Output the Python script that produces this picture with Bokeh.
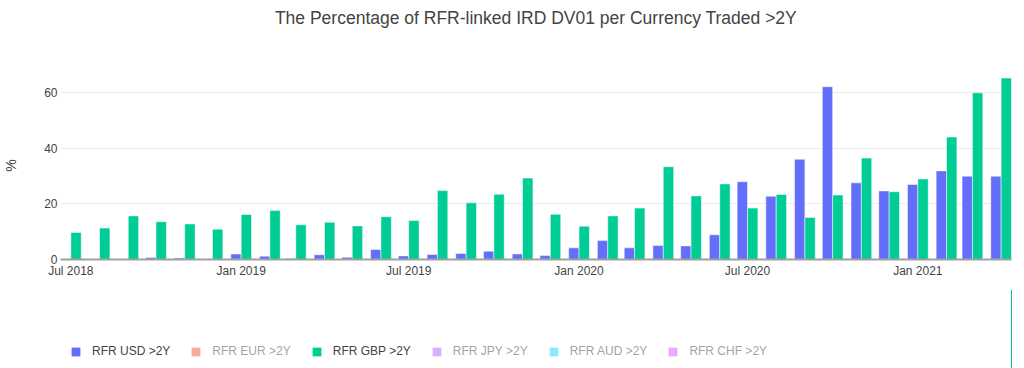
import pandas as pd
from bokeh.plotting import figure
from bokeh.layouts import column
from bokeh.models import (ColumnDataSource, Range1d, FixedTicker, Legend, LegendItem,
                          DatetimeTickFormatter, Label)
from bokeh.transform import dodge
from bokeh.embed import file_html
from bokeh.resources import INLINE

# ---------------- data ----------------
months = ["2018-07", "2018-08", "2018-09", "2018-10", "2018-11", "2018-12",
          "2019-01", "2019-02", "2019-03", "2019-04", "2019-05", "2019-06",
          "2019-07", "2019-08", "2019-09", "2019-10", "2019-11", "2019-12",
          "2020-01", "2020-02", "2020-03", "2020-04", "2020-05", "2020-06",
          "2020-07", "2020-08", "2020-09", "2020-10", "2020-11", "2020-12",
          "2021-01", "2021-02", "2021-03", "2021-04"]
usd = [0.1, 0.0, 0.0, 0.7, 0.5, 0.0,
       2.0, 1.2, 0.4, 1.7, 0.8, 3.6,
       1.3, 1.8, 2.2, 3.0, 2.0, 1.4,
       4.2, 6.8, 4.2, 5.0, 4.9, 8.9,
       28.0, 22.8, 36.1, 62.2, 27.6, 24.7,
       27.0, 31.9, 30.0, 30.0]
gbp = [9.7, 11.3, 15.7, 13.6, 12.8, 10.9,
       16.2, 17.6, 12.5, 13.4, 12.1, 15.4,
       14.0, 24.8, 20.4, 23.5, 29.3, 16.3,
       12.0, 15.7, 18.5, 33.4, 22.9, 27.2,
       18.5, 23.4, 15.1, 23.2, 36.5, 24.4,
       29.0, 44.1, 60.0, 65.3]
series_names = ["RFR USD >2Y", "RFR EUR >2Y", "RFR GBP >2Y",
                "RFR JPY >2Y", "RFR AUD >2Y", "RFR CHF >2Y"]
series_colors = ["#636EFA", "#EF553B", "#00CC96", "#AB63FA", "#19D3F3", "#E151F9"]
series_shown = [True, False, True, False, False, False]
tick_dates = ["2018-07-01", "2019-01-01", "2019-07-01",
              "2020-01-01", "2020-07-01", "2021-01-01"]
tick_labels = ["Jul 2018", "Jan 2019", "Jul 2019", "Jan 2020", "Jul 2020", "Jan 2021"]
y_ticks = [0, 20, 40, 60]
title_text = "The Percentage of RFR-linked IRD DV01 per Currency Traded >2Y"
y_title = "%"

# ---------------- build ----------------
DAY = 86400000.0
def to_ms(s):
    return pd.Timestamp(s).timestamp() * 1000.0

x_ms = [to_ms(m + "-01") for m in months]
tick_ms = [to_ms(d) for d in tick_dates]
bar_w = 11.2 * DAY

src = ColumnDataSource(dict(x=x_ms, usd=usd, gbp=gbp))
series_cols = {0: "usd", 2: "gbp"}

FONT = "Liberation Sans"
TXT = "#444444"

def blank_fig(h):
    f = figure(width=1024, height=h, output_backend="svg", toolbar_location=None,
               x_axis_location=None, y_axis_location=None,
               min_border_left=0, min_border_right=0, min_border_top=0, min_border_bottom=0,
               x_range=Range1d(0, 1), y_range=Range1d(0, 1),
               background_fill_color="white", border_fill_color="white",
               outline_line_color=None)
    f.grid.visible = False
    return f

# ---------------- title strip ----------------
head = blank_fig(71)
head.add_layout(Label(x=475.5, y=54, x_units="screen", y_units="screen", text=title_text,
                      text_align="center", text_baseline="middle", text_font=FONT,
                      text_font_size="17.5px", text_color=TXT))

# ---------------- main chart ----------------
p = figure(width=1024, height=219, x_axis_type="datetime",
           output_backend="svg", toolbar_location=None,
           min_border_left=60, min_border_right=13,
           min_border_top=0, min_border_bottom=31,
           x_range=Range1d(x_ms[0] - bar_w, x_ms[-1] + bar_w),
           y_range=Range1d(0, 67.68),
           background_fill_color="white", border_fill_color="white",
           outline_line_color=None)

p.vbar(x=dodge("x", -bar_w / 2, range=p.x_range), top="usd", width=bar_w,
       source=src, fill_color=series_colors[0], line_color="white", line_width=0.5)
p.vbar(x=dodge("x", bar_w / 2, range=p.x_range), top="gbp", width=bar_w,
       source=src, fill_color=series_colors[2], line_color="white", line_width=0.5)

xa = p.xaxis[0]
xa.ticker = FixedTicker(ticks=tick_ms)
xa.formatter = DatetimeTickFormatter(days="%b %Y", months="%b %Y", years="%b %Y")
xa.major_label_overrides = dict(zip(tick_ms, tick_labels))
xa.axis_line_color = "#a0a0a0"
xa.axis_line_width = 2
xa.major_tick_line_color = None
xa.minor_tick_line_color = None
xa.major_tick_out = 0
xa.major_tick_in = 0
xa.major_label_standoff = 4
xa.major_label_text_font = FONT
xa.major_label_text_font_size = "12px"
xa.major_label_text_color = TXT

ya = p.yaxis[0]
ya.ticker = FixedTicker(ticks=y_ticks)
ya.axis_line_color = None
ya.major_tick_line_color = None
ya.minor_tick_line_color = None
ya.major_tick_out = 0
ya.major_tick_in = 0
ya.major_label_standoff = 3
ya.major_label_text_font = FONT
ya.major_label_text_font_size = "12px"
ya.major_label_text_color = TXT
ya.axis_label = y_title
ya.axis_label_standoff = 22
ya.axis_label_text_font = FONT
ya.axis_label_text_font_size = "14px"
ya.axis_label_text_font_style = "normal"
ya.axis_label_text_color = TXT

p.xgrid.visible = False
p.ygrid.grid_line_color = "#ebebeb"
p.ygrid.grid_line_width = 1

# ---------------- legend strip ----------------
lg = blank_fig(78)
items = []
for i, (name, color, shown) in enumerate(zip(series_names, series_colors, series_shown)):
    if i in series_cols:
        # proxy drawn from the real series (its dates lie outside this strip's range)
        r = lg.vbar(x="x", top=series_cols[i], width=bar_w, source=src,
                    fill_color=color, line_color=None, visible=shown)
    else:
        # hidden (legend-only) series: no values shown in the chart
        r = lg.vbar(x=[float("nan")], top=[float("nan")], width=1, fill_color=color,
                    line_color=None, visible=shown)
    items.append(LegendItem(label=name, renderers=[r]))

legend = Legend(items=items, location=(10, 10), orientation="horizontal",
                click_policy="hide", padding=0, margin=0, spacing=20,
                label_standoff=11, glyph_width=11, glyph_height=11, label_height=14,
                label_text_font=FONT, label_text_font_size="12px", label_text_color=TXT,
                border_line_color=None, background_fill_alpha=0,
                inactive_fill_color="white", inactive_fill_alpha=0.5)
lg.add_layout(legend)

layout = column(head, p, lg, spacing=0)
open("out.html", "w").write(file_html(layout, INLINE))
